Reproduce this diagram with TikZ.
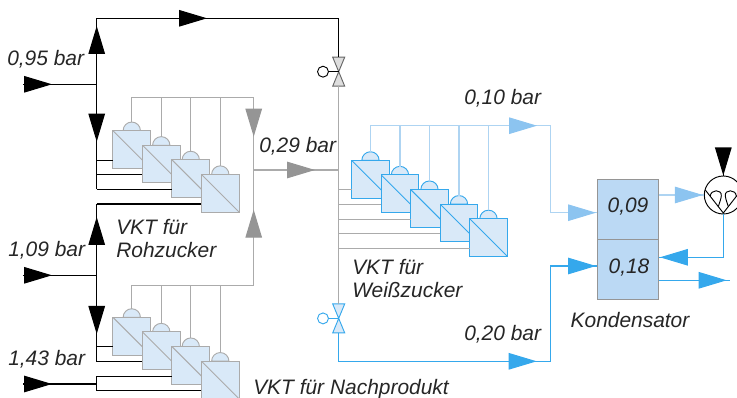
\documentclass[tikz,border=0pt]{standalone}
\usepackage{fontspec}
\setmainfont{Liberation Sans}
\usetikzlibrary{arrows.meta,decorations.markings}

\definecolor{rawline}{HTML}{ABABAB}
\definecolor{rawtip}{HTML}{959595}
\definecolor{modfill}{HTML}{D9E9F8}
\definecolor{steam}{HTML}{35A8EC}
\definecolor{vapour}{HTML}{8CC4F0}
\definecolor{vapstub}{HTML}{AED4F2}
\definecolor{condfill}{HTML}{BBD9F4}

\tikzset{
    lbl/.style={font=\fontsize{15.7}{17.3}\selectfont\itshape,text=black!85,inner sep=0pt,align=left},
    module/.style={draw=#1,fill=modfill,minimum size=28.3pt,inner sep=0pt,line width=.8pt,
        path picture={\draw[#1,line width=.7pt] (path picture bounding box.north west) -- (path picture bounding box.south east);}},
    tipat/.style args={#1 in #2}{postaction={decorate,decoration={markings,
        mark=at position #1*0.75pt with {\arrow{Triangle[length=21pt,width=12.4pt,color=#2]}}}}},
    pipe/.style={line width=.8pt},
}

% row of modules going down to the right, each with its dome and its feed point
\newcommand{\modulerow}[5]{%
    \foreach \i in {1,...,#4}{%
        \pgfmathsetmacro{\cx}{#2+(\i-1)*29.5}
        \pgfmathsetmacro{\cy}{#3+(\i-1)*14.6}
        \coordinate (#1dome\i) at (\cx,\cy-27.2);
        \filldraw [draw=#5,fill=modfill,line width=.7pt] (\cx-8.7,\cy-18.8) arc [start angle=180,end angle=0,radius=6.5pt] -- cycle;
        \node [module=#5] (#1\i) at (\cx,\cy) {};
        \coordinate (#1in\i) at (\cx-18.85,\cy+10.7);
    }%
}
% #4 hand wheel, #5 body outline, #6 body fill
\newcommand{\valve}[6]{%
    \coordinate (#1top) at (#2,#3-14.5);
    \coordinate (#1bot) at (#2,#3+14.5);
    \coordinate (#1mid) at (#2,#3);
    \node [circle,draw=#4,line width=.7pt,fill=white,minimum size=8.2pt,inner sep=0pt] (#1hand) at (#2-15.7,#3) {};
    \filldraw [draw=#5,fill=#6,line width=.7pt] (#2-6,#3-14.5) -- (#2+6,#3-14.5) -- (#2-6,#3+14.5) -- (#2+6,#3+14.5) -- cycle;
    \draw [#4,line width=.7pt] (#1hand) -- (#1mid);
}

\begin{document}
\begin{tikzpicture}[x=.75pt,y=-.75pt]
    \useasboundingbox (0,0) rectangle (737,398);
    \clip (0,0) rectangle (737,398);

    \coordinate (railx) at (96.7,0);
    \coordinate (wzrailx) at (338.7,0);
    \coordinate (in095) at (23.3,84.3);
    \coordinate (in109) at (23.3,275.3);
    \coordinate (in143) at (23.3,384);
    \coordinate (j095) at (96.7,84.3);
    \coordinate (j109) at (96.7,275.3);
    \coordinate (j143) at (96.7,384);
    \coordinate (topleft) at (96.7,18.3);
    \coordinate (topright) at (338.7,18.3);
    \coordinate (collup) at (253.7,97.7);
    \coordinate (colldown) at (253.7,285.3);
    \coordinate (j029) at (253.7,170);
    \coordinate (j029r) at (338.7,170);
    \coordinate (wzcoll) at (370,125.7);
    \coordinate (wzcorner) at (550.7,125.7);
    \coordinate (wzdown) at (550.7,212.7);
    \coordinate (lowleft) at (338.7,361.3);
    \coordinate (lowright) at (550.7,361.3);
    \coordinate (lowup) at (550.7,266);
    \coordinate (outlet) at (730,280.3);
    \coordinate (pumpin) at (723.3,148.3);
    \coordinate (backturn) at (723.3,257.3);

    \valve{vone}{338.7}{71.7}{black}{black!60}{black!13}
    \valve{vtwo}{338.7}{318.4}{steam}{steam}{modfill}

    \modulerow{rz}{131.8}{149.5}{4}{rawline}
    \modulerow{np}{131.8}{336.2}{4}{rawline}
    \modulerow{wz}{370.5}{179.2}{5}{steam}

    % collectors
    \foreach \i in {1,...,4}{%
        \draw [pipe,rawline] (rzdome\i) |- (collup);
        \draw [pipe,rawline] (npdome\i) |- (colldown);
    }
    \foreach \i in {1,...,5}{%
        \draw [pipe,vapstub] (wzdome\i) -- (wzdome\i |- wzcoll);
        \draw [pipe,rawline] (wzin\i) -- (wzrailx |- wzin\i);
    }
    \draw [pipe,rawline,tipat=39 in rawtip] (collup) -- (j029);
    \draw [pipe,rawline,tipat=75.6 in rawtip] (colldown) -- (j029);
    \draw [pipe,rawline,tipat=61.3 in rawtip] (j029) -- (j029r);
    \draw [pipe,rawline] (vonebot) -- (vtwotop);

    % black feeds
    \draw [pipe,tipat=28.7 in black] (in095) -- (j095);
    \draw [pipe,tipat=28.7 in black] (in109) -- (j109);
    \draw [pipe,tipat=28.7 in black] (in143) -- (j143);
    \draw [pipe,tipat=58.3 in black,tipat=176.3 in black] (j095) -- (topleft) -- (topright) -- (vonetop);
    \draw [pipe,tipat=57.4 in black] (j095) -- (railx |- rzin3);
    \draw [pipe,tipat=58.3 in black] (j109) -- (railx |- rzin4);
    \draw [pipe,tipat=58.7 in black] (j109) -- (railx |- npin2);
    \draw [pipe] (railx |- npin3) -- (railx |- npin4);
    \foreach \m in {rzin1,rzin2,rzin3,rzin4,npin1,npin2,npin3,npin4}{%
        \draw [pipe] (railx |- \m) -- (\m);
    }

    % condenser
    \node [draw=rawtip,fill=condfill,line width=.9pt,minimum width=45.4pt,minimum height=45pt,inner sep=0pt] (condup) at (628,209.7) {};
    \node [draw=rawtip,fill=condfill,line width=.9pt,minimum width=45.4pt,minimum height=45pt,inner sep=0pt] (conddown) at (628,269.8) {};
    \node [lbl] (valup) at (628,207) {0,09};
    \node [lbl] (valdown) at (629,268) {0,18};

    % pump
    \node [circle,draw,line width=.7pt,fill=white,minimum size=28.5pt,inner sep=0pt] (pump) at (723.3,195) {};
    \begin{scope}[shift={(pump.center)},line width=.7pt]
        \draw (-18,-5) -- (0,18) -- (18,-5);
        \draw (-13,1.4) .. controls (-13,-6) and (-1,-6) .. (-2,1) .. controls (-2.5,5) and (-4,8) .. (-5,11.6);
        \draw (13,1.4) .. controls (13,-6) and (1,-6) .. (2,1) .. controls (2.5,5) and (4,8) .. (5,11.6);
    \end{scope}

    % vapour and steam
    \draw [pipe,vapstub,tipat=167 in vapour,tipat=313 in vapour] (wzcoll) -- (wzcorner) -- (wzdown) -- (wzdown -| condup.west);
    \draw [pipe,vapstub,tipat=44 in vapour] (condup.east |- pump.west) -- (pump.west);
    \draw [pipe,steam,tipat=226.4 in steam,tipat=381 in steam] (vtwobot) -- (lowleft) -- (lowright) -- (lowup) -- (lowup -| conddown.west);
    \draw [pipe,steam,tipat=106.2 in steam] (pump.south) -- (backturn) -- (backturn -| conddown.east);
    \draw [pipe,steam,tipat=67.8 in steam] (conddown.east |- outlet) -- (outlet);
    \draw [pipe,tipat=27.2 in black] (pumpin) -- (pump.north);

    % labels
    \node [lbl,anchor=west] (p095) at (7,59) {0,95 bar};
    \node [lbl,anchor=west] (p109) at (8,250) {1,09 bar};
    \node [lbl,anchor=west] (p143) at (8,359) {1,43 bar};
    \node [lbl,anchor=west] (p029) at (259,146.5) {0,29 bar};
    \node [lbl,anchor=west] (p010) at (464,98) {0,10 bar};
    \node [lbl,anchor=west] (p020) at (464,334) {0,20 bar};
    \node [lbl,anchor=north west] (trz) at (116,219) {VKT für\\Rohzucker};
    \node [lbl,anchor=north west] (twz) at (352,259) {VKT für\\Weißzucker};
    \node [lbl,anchor=west] (tnp) at (253,389) {VKT für Nachprodukt};
    \node [lbl] (tkond) at (630,320) {Kondensator};
\end{tikzpicture}
\end{document}
